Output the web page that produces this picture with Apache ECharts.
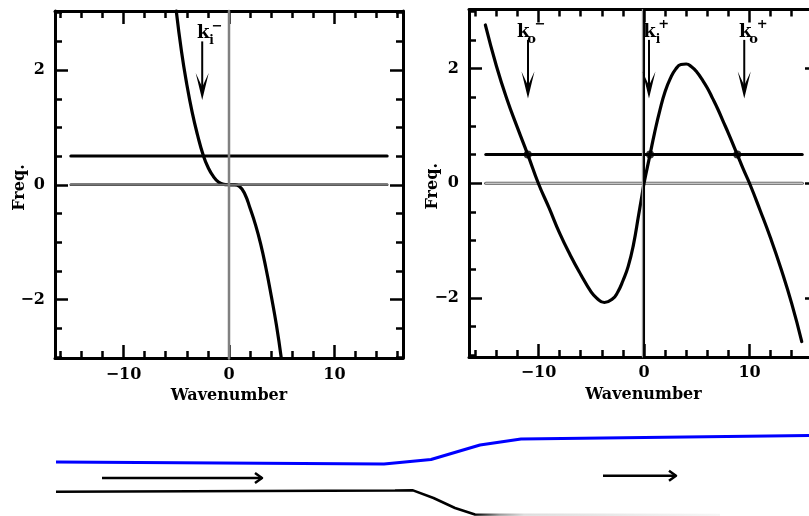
<!DOCTYPE html>
<html><head><meta charset="utf-8">
<style>html,body{margin:0;padding:0;background:#fff}#c{width:809px;height:516px}</style>
<script src="https://cdn.jsdelivr.net/npm/echarts@6/dist/echarts.min.js"></script>
</head><body><div id="c"></div>
<script>
const xMajor = [-10, 0, 10];
const xMinor = [-16, -14, -12, -8, -6, -4, -2, 2, 4, 6, 8, 12, 14, 16];
const yMajor = [-2, 0, 2];
const yMinor = [-3, -2.5, -1.5, -1, -0.5, 0.5, 1, 1.5, 2.5, 3];

const leftCurve = [[-5,3.03],[-4.5,2.32],[-4,1.75],[-3.5,1.27],[-3,0.88],[-2.42,0.5],[-2,0.31],[-1.5,0.15],[-1,0.05],[-0.5,0.008],[0,0],
  [0.5,-0.002],[1,-0.03],[1.5,-0.16],[2,-0.41],[2.5,-0.69],[3,-1.03],[3.5,-1.45],[4,-1.93],[4.5,-2.45],[4.95,-3.01]];
const rightCurve = [[-15.04,2.76],[-14,2.05],[-13,1.47],[-12,0.97],[-11.02,0.5],[-10.02,0],[-9,-0.43],[-8,-0.87],[-7,-1.25],[-6,-1.59],[-5,-1.9],
  [-4.5,-2.0],[-3.76,-2.08],[-3,-2.02],[-2.5,-1.9],[-2,-1.7],[-1.5,-1.45],[-1,-1.07],[-0.5,-0.54],[-0.22,-0.24],[0,0],
  [0.57,0.5],[1,0.88],[1.5,1.27],[2,1.6],[2.5,1.83],[3,1.99],[3.5,2.07],[4,2.08],[4.5,2.03],[5,1.94],[5.5,1.81],[6,1.66],[6.5,1.48],[7,1.29],
  [7.5,1.08],[8,0.87],[8.84,0.5],[9.4,0.25],[10,0],[11,-0.47],[12,-0.96],[13,-1.5],[14,-2.1],[14.95,-2.76]];
const freqLine = [[-15,0.5],[15,0.5]];
const zeroH = [[-15,0],[15,0]];
const zeroV = [[0,-3.03],[0,3.03]];
const zeroVShade = [[-0.15,-3.03],[-0.15,3.03]];
const crossings = [[-11.02,0.5],[0.57,0.5],[8.84,0.5]];

const leftArrows = [{name:'i', sup:'−', k:-2.54, from:2.5, to:1.48}];
const rightArrows = [
  {name:'o', sup:'−', k:-11.0, from:2.5, to:1.48},
  {name:'i', sup:'+', k:0.47, from:2.5, to:1.48},
  {name:'o', sup:'+', k:9.5, from:2.5, to:1.48}
];

// lower sketch, in the sketch's own units
const upperWall = [[56,462],[384,464],[431,459.5],[480,445],[521,439],[809,435.5]];
const lowerWall = [[56,491.7],[395,490.6],[413,490.3],[433.5,498],[455,508],[475,514.5],[720,515]];
const flowArrows = [[[102,478],[262,478]],[[603,475.7],[676,475.7]]];

const FONT = '"DejaVu Serif"';
const lbl = {fontFamily:FONT, fontWeight:'bold', fontSize:16, color:'#000'};
const fmt = v => String(v).replace('-', '−');

function axisSet(dim, grid, min, max, major, minor, name, nameGap, margin) {
  const base = {type:'value', gridIndex:grid, min, max, splitLine:{show:false}};
  const pos = dim==='x' ? ['bottom','top'] : ['left','right'];
  const line = {show:true, onZero:false, lineStyle:{color:'#000', width:3}};
  const hidden = {show:false, onZero:false};
  const nameCfg = {name, nameLocation:'middle', nameGap, nameMoveOverlap:false,
    nameTextStyle:{fontFamily:FONT,fontWeight:'bold',fontSize:16,color:'#000', padding: dim==='y' ? [0,6,0,0] : 0}};
  const tick = (values, length) => ({show:true, inside:true, length, customValues:values, lineStyle:{color:'#000',width:2.5}});
  return [
    {...base, ...nameCfg, position:pos[0], axisLine:line, axisTick:tick(major,13),
      axisLabel:{show:true, ...lbl, margin, customValues:major, formatter:fmt}},
    {...base, position:pos[0], axisLine:hidden, axisTick:tick(minor,7), axisLabel:{show:false}},
    {...base, position:pos[1], axisLine:line, axisTick:tick(major,13), axisLabel:{show:false}},
    {...base, position:pos[1], axisLine:hidden, axisTick:tick(minor,7), axisLabel:{show:false}}
  ];
}

const line = (g, data, color, width, z, extra) => ({type:'line', xAxisIndex:g*4, yAxisIndex:g*4, data, symbol:'none', silent:true, z,
  clip:false, lineStyle:{color, width, cap:'round'}, ...extra});

// label placement, pixels relative to the arrow's tail
const kShift = {0:[1], 1:[-4.7,0.6,1]};
const subGap = 8.4, supGap = {i:14, o:17}, subRise = -0.5, supRise = -15, kRise = -8;

function arrowSeries(g, arrows) {
  return {type:'custom', xAxisIndex:g*4, yAxisIndex:g*4, silent:true, z:6, clip:false,
    data: arrows.map(a => [a.k, a.from, a.to]),
    renderItem(params, api) {
      const a = arrows[params.dataIndex];
      const t = api.coord([a.k, a.from]), h = api.coord([a.k, a.to]);
      const x = t[0], kx = x + kShift[g][params.dataIndex];
      const txt = (s, px, dy, size) => ({type:'text', style:{text:s, x:px, y:t[1]+dy, align:'center', verticalAlign:'middle',
        font:`bold ${size}px ${FONT}`, fill:'#000'}});
      return {type:'group', children:[
        {type:'line', shape:{x1:x,y1:t[1],x2:x,y2:h[1]-8}, style:{stroke:'#000',lineWidth:2}},
        {type:'polygon', shape:{points:[[x,h[1]],[x-6.5,h[1]-27],[x,h[1]-13],[x+6.5,h[1]-27]]}, style:{fill:'#000'}},
        txt('k', kx, kRise, 18),
        txt(a.name, kx+subGap, subRise, a.name==='o'?13:12),
        txt(a.sup, kx+supGap[a.name], supRise, 13)
      ]};
    }};
}

const flowSeries = {type:'custom', xAxisIndex:8, yAxisIndex:8, silent:true, clip:false, z:6,
  data: flowArrows.map(a => [a[0][0], a[0][1], a[1][0], a[1][1]]),
  renderItem(params, api) {
    const a = api.coord([api.value(0), api.value(1)]), b = api.coord([api.value(2), api.value(3)]);
    const st = {stroke:'#000', lineWidth:2.5, fill:'none', lineJoin:'round'};
    return {type:'group', children:[
      {type:'line', shape:{x1:a[0],y1:a[1],x2:b[0],y2:b[1]}, style:st},
      {type:'polyline', shape:{points:[[b[0]-7,b[1]-5],[b[0],b[1]],[b[0]-7,b[1]+5]]}, style:st}
    ]};
  }};

const option = {
  animation:false, backgroundColor:'#fff',
  grid:[
    {left:55, top:11, width:348, height:347, outerBoundsMode:'none'},
    {left:469, top:9.5, width:349, height:347.5, outerBoundsMode:'none'},
    {left:0, top:410, width:809, height:106, outerBoundsMode:'none'}
  ],
  xAxis:[
    ...axisSet('x',0,-16.5,16.5,xMajor,xMinor,'Wavenumber',30,9),
    ...axisSet('x',1,-16.59,16.49,xMajor,xMinor,'Wavenumber',30,8),
    {type:'value', gridIndex:2, min:0, max:809, show:false}
  ],
  yAxis:[
    ...axisSet('y',0,-3.02,3.03,yMajor,yMinor,'Freq.',27,10),
    ...axisSet('y',1,-3.03,3.03,yMajor,yMinor,'Freq.',28,10),
    {type:'value', gridIndex:2, min:410, max:516, inverse:true, show:false}
  ],
  series:[
    line(0,leftCurve,'#000',3.2,3,{smooth:true}),
    line(0,freqLine,'#000',3,2),
    line(0,zeroH,'#000',2.5,3),
    line(0,zeroH,'#777',2,4),
    line(0,zeroV,'#808080',2.5,4),
    arrowSeries(0,leftArrows),

    line(1,zeroH,'#555',3.2,2),
    line(1,zeroH,'#c4c4c4',1.6,2),
    line(1,freqLine,'#000',3,2),
    line(1,rightCurve,'#000',3.2,3,{smooth:true}),
    line(1,zeroV,'#000',2,4),
    line(1,zeroVShade,'#9a9a9a',1.2,4),
    {type:'scatter', xAxisIndex:4, yAxisIndex:4, data:crossings, symbol:'circle', symbolSize:8, silent:true, z:5, itemStyle:{color:'#000'}},
    arrowSeries(1,rightArrows),

    {type:'line', xAxisIndex:8, yAxisIndex:8, data:upperWall, symbol:'none', silent:true, clip:false, lineStyle:{color:'#0000ff',width:3}},
    {type:'line', xAxisIndex:8, yAxisIndex:8, data:lowerWall, symbol:'none', silent:true, clip:false,
      lineStyle:{width:2.5, color:{type:'linear', global:true, x:475, y:0, x2:720, y2:0,
        colorStops:[{offset:0,color:'#000'},{offset:0.1,color:'#999'},{offset:0.2,color:'#ddd'},{offset:1,color:'#f6f6f6'}]}}},
    flowSeries
  ]
};
const chart = echarts.init(document.getElementById('c'), null, {renderer:'canvas', width:809, height:516});
chart.setOption(option);
</script></body></html>
